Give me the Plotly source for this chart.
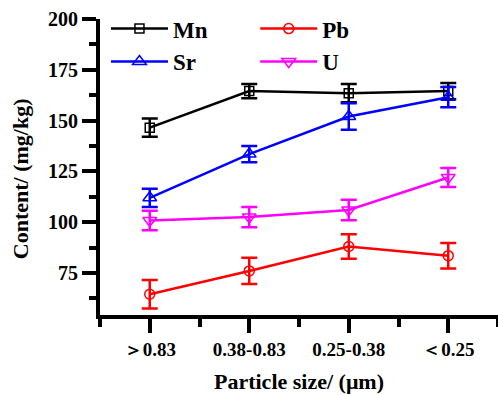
import plotly.graph_objects as go

categories = ["＞0.83", "0.38-0.83", "0.25-0.38", "＜0.25"]
mn = [146.5, 164.5, 163.5, 164.5]
mn_err = [4.5, 3.5, 4.5, 4.0]
pb = [64.5, 76.0, 88.0, 83.5]
pb_err = [7.0, 6.5, 6.0, 6.3]
sr = [112.0, 133.5, 152.0, 161.5]
sr_err = [4.5, 4.0, 6.5, 5.0]
u = [100.8, 102.5, 106.0, 122.0]
u_err = [4.8, 5.0, 5.0, 4.7]

xs = list(range(len(categories)))
font_family = "Liberation Serif"

series = [
    ("Mn", mn, mn_err, "#000000", "square-open", "legend", 9),
    ("Pb", pb, pb_err, "#FF0000", "circle-open", "legend2", 10),
    ("Sr", sr, sr_err, "#0000FF", "triangle-up-open", "legend", 12),
    ("U", u, u_err, "#FF00FF", "triangle-down-open", "legend2", 12),
]

fig = go.Figure()
for name, vals, errs, color, sym, leg, msize in series:
    fig.add_trace(go.Scatter(
        x=xs, y=vals, name=name, mode="lines+markers",
        line=dict(color=color, width=2.5),
        marker=dict(symbol=sym, size=msize, color=color, line=dict(width=1.5, color=color)),
        error_y=dict(type="data", array=errs, visible=True, color=color, thickness=2.5, width=8),
        legend=leg,
    ))

legend_common = dict(
    font=dict(family=font_family, size=23, color="black", weight="bold"),
    bgcolor="rgba(0,0,0,0)", itemwidth=57, yanchor="top", xanchor="left",
    tracegroupgap=0,
)
title_font = dict(family=font_family, size=22, color="black", weight="bold")
fig.update_layout(
    width=498, height=395,
    margin=dict(l=100, r=0, t=19, b=80),
    plot_bgcolor="white", paper_bgcolor="white",
    font=dict(family=font_family, color="black"),
    legend=dict(x=0.015, y=1.04, **legend_common),
    legend2=dict(x=0.39, y=1.04, **legend_common),
    xaxis=dict(
        range=[-0.5, 3.5], tickvals=xs, ticktext=categories,
        showline=True, linecolor="black", linewidth=4,
        ticks="outside", ticklen=14, tickwidth=4, tickcolor="black",
        minor=dict(dtick=0.5, tick0=-0.5, ticks="outside", ticklen=8, tickwidth=4, tickcolor="black"),
        tickfont=dict(family=font_family, size=19, color="black", weight="bold"),
        showgrid=False, zeroline=False,
        title=dict(text="Particle size/ (μm)", font=title_font, standoff=16),
    ),
    yaxis=dict(
        range=[54.3, 200], tickvals=[75, 100, 125, 150, 175, 200],
        showline=True, linecolor="black", linewidth=4,
        ticks="outside", ticklen=14, tickwidth=4, tickcolor="black",
        minor=dict(dtick=12.5, tick0=0, ticks="outside", ticklen=7, tickwidth=4, tickcolor="black"),
        tickfont=dict(family=font_family, size=20, color="black", weight="bold"),
        showgrid=False, zeroline=False,
    ),
    annotations=[dict(
        text="Content/ (mg/kg)", textangle=-90, font=title_font,
        xref="paper", yref="paper", x=-0.2, y=0.46, xanchor="center", yanchor="middle",
        showarrow=False,
    )],
)
fig.write_html("out.html")
